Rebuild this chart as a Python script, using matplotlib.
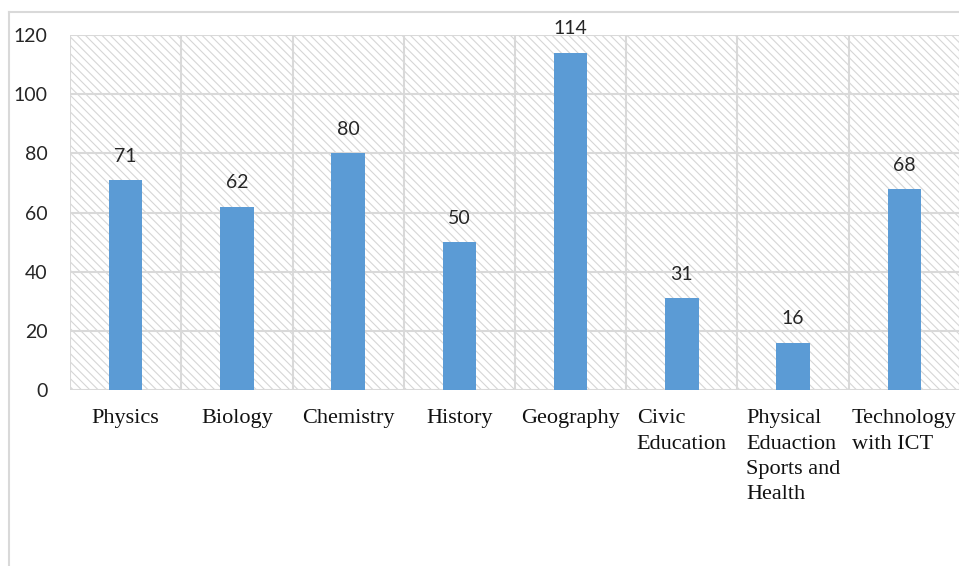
import matplotlib.pyplot as plt
from matplotlib.patches import Rectangle
from matplotlib.lines import Line2D

subjects = ["Physics", "Biology", "Chemistry", "History", "Geography",
            "Civic\nEducation", "Physical\nEduaction\nSports and\nHealth",
            "Technology\nwith ICT"]
counts = [71, 62, 80, 50, 114, 31, 16, 68]
y_ticks = [0, 20, 40, 60, 80, 100, 120]

W, H = 959, 566
GRID = "#d9d9d9"
BAR = "#5b9bd5"

plt.rcParams["hatch.linewidth"] = 0.8

fig = plt.figure(figsize=(W / 100, H / 100), dpi=100)
fig.patch.set_facecolor("white")

# outer chart border (top and left visible)
fig.add_artist(Line2D([9 / W, 9 / W], [0, 1 - 12 / H], color=GRID, lw=1.5,
                      transform=fig.transFigure))
fig.add_artist(Line2D([9 / W, 1], [1 - 12 / H, 1 - 12 / H], color=GRID, lw=1.5,
                      transform=fig.transFigure))

left, right, top, bottom = 70, 960, 35, 390
ax = fig.add_axes([left / W, 1 - bottom / H, (right - left) / W, (bottom - top) / H])

n = len(subjects)
x = list(range(n))
ax.set_xlim(-0.5, n - 0.5)
ax.set_ylim(0, 120)

# hatched background
ax.add_patch(Rectangle((0, 0), 1, 1, transform=ax.transAxes, facecolor="white",
                       edgecolor="#d6d6d6", hatch="\\\\\\\\", lw=0, zorder=0))

for v in y_ticks:
    ax.axhline(v, color=GRID, lw=1.5, zorder=1)
for i in range(n + 1):
    ax.axvline(i - 0.5, color=GRID, lw=1.5, zorder=1)

ax.bar(x, counts, width=0.3, color=BAR, zorder=2)

for xi, c in zip(x, counts):
    ax.annotate(str(c), (xi, c), xytext=(0, 11), textcoords="offset points",
                ha="center", va="bottom", fontsize=14, family="Lato",
                color="#262626")

for s in ax.spines.values():
    s.set_visible(False)

ax.set_yticks(y_ticks)
ax.set_yticklabels([str(v) for v in y_ticks], family="Lato", fontsize=14,
                   color="#262626")
ax.set_xticks(x)
ax.set_xticklabels(subjects, family="Liberation Serif", fontsize=16,
                   color="#111111", va="top", linespacing=1.45)
for lbl in ax.get_xticklabels():
    if "\n" in lbl.get_text():
        lbl.set_multialignment("left")
ax.tick_params(axis="y", length=0, pad=16)
ax.tick_params(axis="x", length=0, pad=14)

fig.savefig("out.png", dpi=100)
